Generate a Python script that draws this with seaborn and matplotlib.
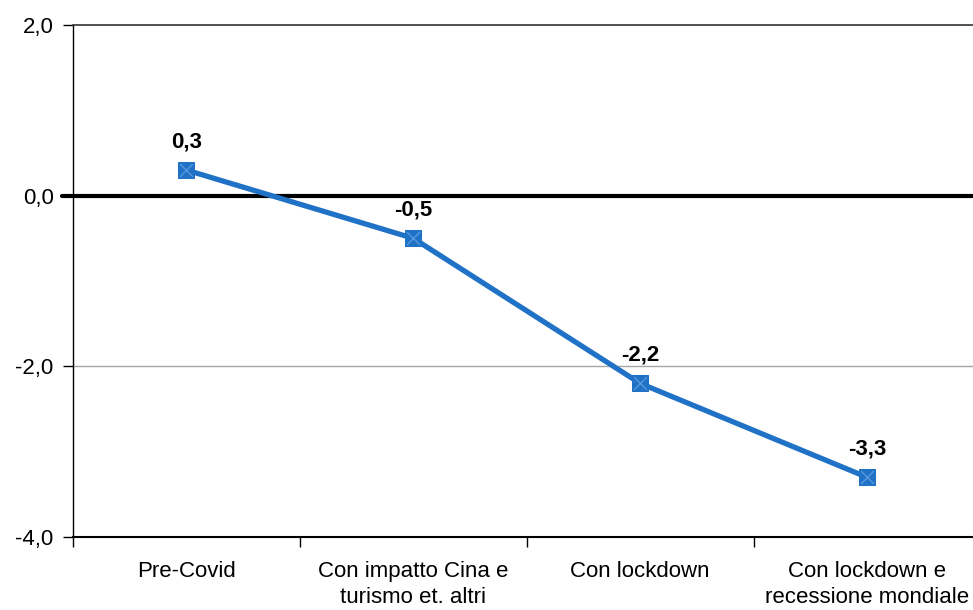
import matplotlib
matplotlib.use("Agg")
import matplotlib.pyplot as plt
import seaborn as sns
import pandas as pd
from matplotlib.ticker import FixedLocator, FuncFormatter

scenarios = ["Pre-Covid", "Con impatto Cina e\nturismo et. altri",
             "Con lockdown", "Con lockdown e\nrecessione mondiale"]
values = [0.3, -0.5, -2.2, -3.3]
y_ticks = [-4, -2, 0, 2]

df = pd.DataFrame({"scenario": scenarios, "value": values})

sns.set_theme(style="white")
plt.rcParams["font.family"] = ["Liberation Sans Narrow", "Liberation Sans", "DejaVu Sans"]
plt.rcParams["text.color"] = "black"
plt.rcParams["xtick.color"] = "black"
plt.rcParams["ytick.color"] = "black"

fig = plt.figure(figsize=(9.73, 6.10), dpi=100)
ax = fig.add_axes([73 / 973, 1 - 537 / 610, (980.5 - 73) / 973, (537 - 25) / 610])

blue = "#1f72c6"
sns.lineplot(data=df, x="scenario", y="value", ax=ax, color=blue, linewidth=3.8,
             marker="s", markersize=11.5, markeredgecolor=blue, sort=False, zorder=4)
sns.scatterplot(data=df, x="scenario", y="value", ax=ax, marker="x", s=85,
                color="#5b9be0", linewidth=0.9, zorder=5)

ax.set_xlim(-0.5, 3.5)
ax.set_ylim(-4, 2)

# zero reference line, extending slightly past the y axis
ax.axhline(0, xmin=-0.012, xmax=1, color="black", linewidth=3, clip_on=False, zorder=3)
ax.axhline(-2, color="#a6a6a6", linewidth=1, zorder=1)

for i, v in enumerate(values):
    ax.annotate(f"{v:.1f}".replace(".", ","), (i, v), xytext=(0, 13),
                textcoords="offset points", ha="center", va="bottom",
                fontsize=16, fontweight="bold", color="black")

ax.yaxis.set_major_locator(FixedLocator(y_ticks))
ax.yaxis.set_major_formatter(FuncFormatter(lambda v, p: f"{v:.1f}".replace(".", ",")))
ax.tick_params(axis="y", which="major", direction="out", length=7, width=1,
               color="black", labelcolor="black", labelsize=16, pad=7, left=True)

ax.set_xticks(range(len(scenarios)))
ax.set_xticklabels(scenarios, linespacing=1.35)
ax.xaxis.set_minor_locator(FixedLocator([-0.5, 0.5, 1.5, 2.5, 3.5]))
ax.tick_params(axis="x", which="major", length=0, labelsize=16, pad=17,
               labelcolor="black")
ax.tick_params(axis="x", which="minor", direction="out", length=7, width=1,
               color="black", bottom=True)

ax.set_xlabel("")
ax.set_ylabel("")

for side in ["left", "bottom"]:
    ax.spines[side].set_color("black")
ax.spines["left"].set_linewidth(1)
ax.spines["bottom"].set_linewidth(1.5)
ax.spines["top"].set_color("#333333")
ax.spines["top"].set_linewidth(1.2)
ax.spines["right"].set_visible(False)

fig.savefig("out.png", dpi=100)
